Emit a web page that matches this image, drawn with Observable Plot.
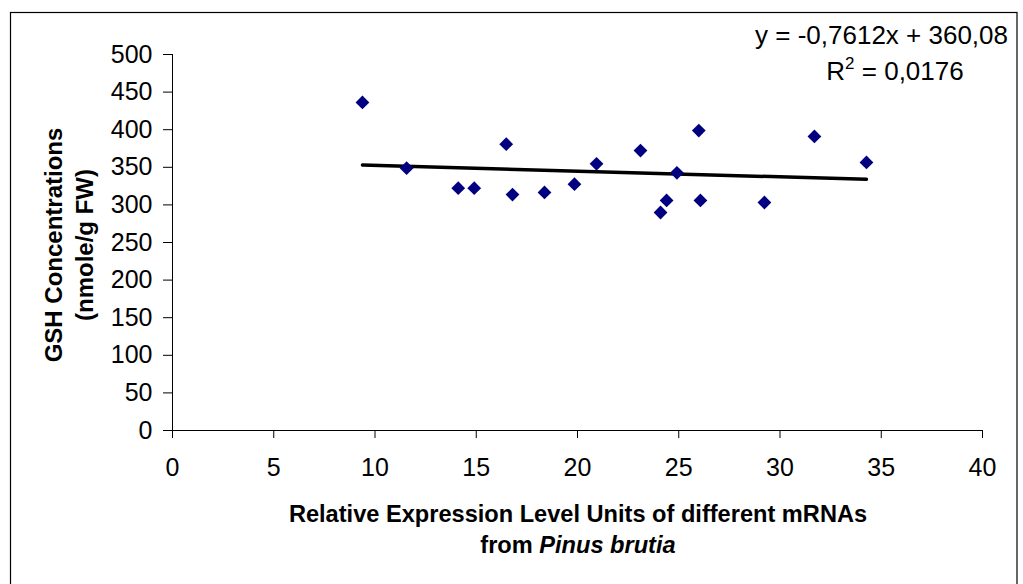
<!DOCTYPE html>
<html>
<head>
<meta charset="utf-8">
<script src="https://cdn.jsdelivr.net/npm/d3@7"></script>
<script src="https://cdn.jsdelivr.net/npm/@observablehq/plot@0.6"></script>
<style>
  html, body { margin: 0; padding: 0; background: #fff; }
  #chart svg { display: block; }
</style>
</head>
<body>
<div id="chart"></div>
<script>
// Data
const expressionLevel = [9.38, 11.56, 14.11, 14.9, 16.48, 16.79, 18.37, 19.85, 20.94, 23.11, 24.1, 24.4, 24.91, 25.99, 26.07, 29.23, 31.7, 34.27];
const gshConcentration = [436.2, 348.8, 322.2, 322.2, 380.7, 313.8, 316.5, 327.5, 354.7, 372.3, 289.9, 305.9, 342.7, 398.9, 305.9, 303.2, 391.0, 356.4];
const xTicks = [0, 5, 10, 15, 20, 25, 30, 35, 40];
const yTicks = [0, 50, 100, 150, 200, 250, 300, 350, 400, 450, 500];
const equationText = "y = -0,7612x + 360,08";
const r2Label = "R";
const r2Value = " = 0,0176";
const yLabelLines = ["GSH Concentrations", "(nmole/g FW)"];
const xLabelLine1 = "Relative Expression Level Units of different mRNAs";
const xLabelLine2a = "from ";
const xLabelLine2b = "Pinus brutia";

const data = expressionLevel.map((x, i) => ({x, y: gshConcentration[i]}));

const plot = Plot.plot({
  width: 1023,
  height: 584,
  marginLeft: 172,
  marginRight: 41,
  marginTop: 54,
  marginBottom: 154,
  style: {fontFamily: "'Liberation Sans', Arial, sans-serif", fontSize: "25px", color: "#000", background: "#fff", overflow: "visible"},
  x: {domain: [0, 40]},
  y: {domain: [0, 500]},
  marks: [
    Plot.axisX({ticks: xTicks, tickSize: 8, tickPadding: 20, tickFormat: d => String(d), label: null, fontSize: 25, stroke: "#000", fill: "#000"}),
    Plot.axisY({ticks: yTicks, tickSize: 9, tickPadding: 11, tickFormat: d => String(d), label: null, fontSize: 25, stroke: "#000", fill: "#000"}),
    Plot.ruleX([0], {stroke: "#000", strokeWidth: 1}),
    Plot.ruleY([0], {stroke: "#000", strokeWidth: 1}),
    Plot.linearRegressionY(data, {x: "x", y: "y", ci: 0, stroke: "#000", strokeWidth: 3.5}),
    Plot.dot(data, {x: "x", y: "y", symbol: "diamond2", r: 6.2, fill: "#000080", stroke: "none"})
  ]
});

document.getElementById("chart").appendChild(plot);

const svg = d3.select(plot);
const font = "'Liberation Sans', Arial, sans-serif";

// outer border of the chart area
svg.append("rect")
  .attr("x", 10.5).attr("y", 12.5)
  .attr("width", 1006.5).attr("height", 600)
  .attr("fill", "none").attr("stroke", "#000").attr("stroke-width", 1.2);

// trendline equation
svg.append("text")
  .attr("x", 1008).attr("y", 44)
  .attr("text-anchor", "end")
  .attr("font-family", font).attr("font-size", 26).attr("fill", "#000")
  .text(equationText);

const r2 = svg.append("text")
  .attr("x", 895).attr("y", 80)
  .attr("font-family", font).attr("font-size", 26).attr("fill", "#000");
r2.append("tspan").text(r2Label);
r2.append("tspan").attr("dy", -11).attr("font-size", 17).text("2");
r2.append("tspan").attr("dy", 11).text(r2Value);

// y axis title
const yl = svg.append("text")
  .attr("transform", "translate(62,245) rotate(-90)")
  .attr("text-anchor", "middle")
  .attr("font-family", font).attr("font-size", 24).attr("font-weight", "bold").attr("fill", "#000");
yl.append("tspan").attr("x", 0).attr("y", 0).text(yLabelLines[0]);
yl.append("tspan").attr("x", 0).attr("y", 31).text(yLabelLines[1]);

// x axis title
svg.append("text")
  .attr("x", 578).attr("y", 522)
  .attr("text-anchor", "middle")
  .attr("font-family", font).attr("font-size", 23.6).attr("font-weight", "bold").attr("fill", "#000")
  .text(xLabelLine1);
const xl2 = svg.append("text")
  .attr("x", 578).attr("y", 553)
  .attr("text-anchor", "middle")
  .attr("font-family", font).attr("font-size", 23.6).attr("font-weight", "bold").attr("fill", "#000");
xl2.append("tspan").text(xLabelLine2a);
xl2.append("tspan").attr("font-style", "italic").text(xLabelLine2b);
</script>
</body>
</html>
